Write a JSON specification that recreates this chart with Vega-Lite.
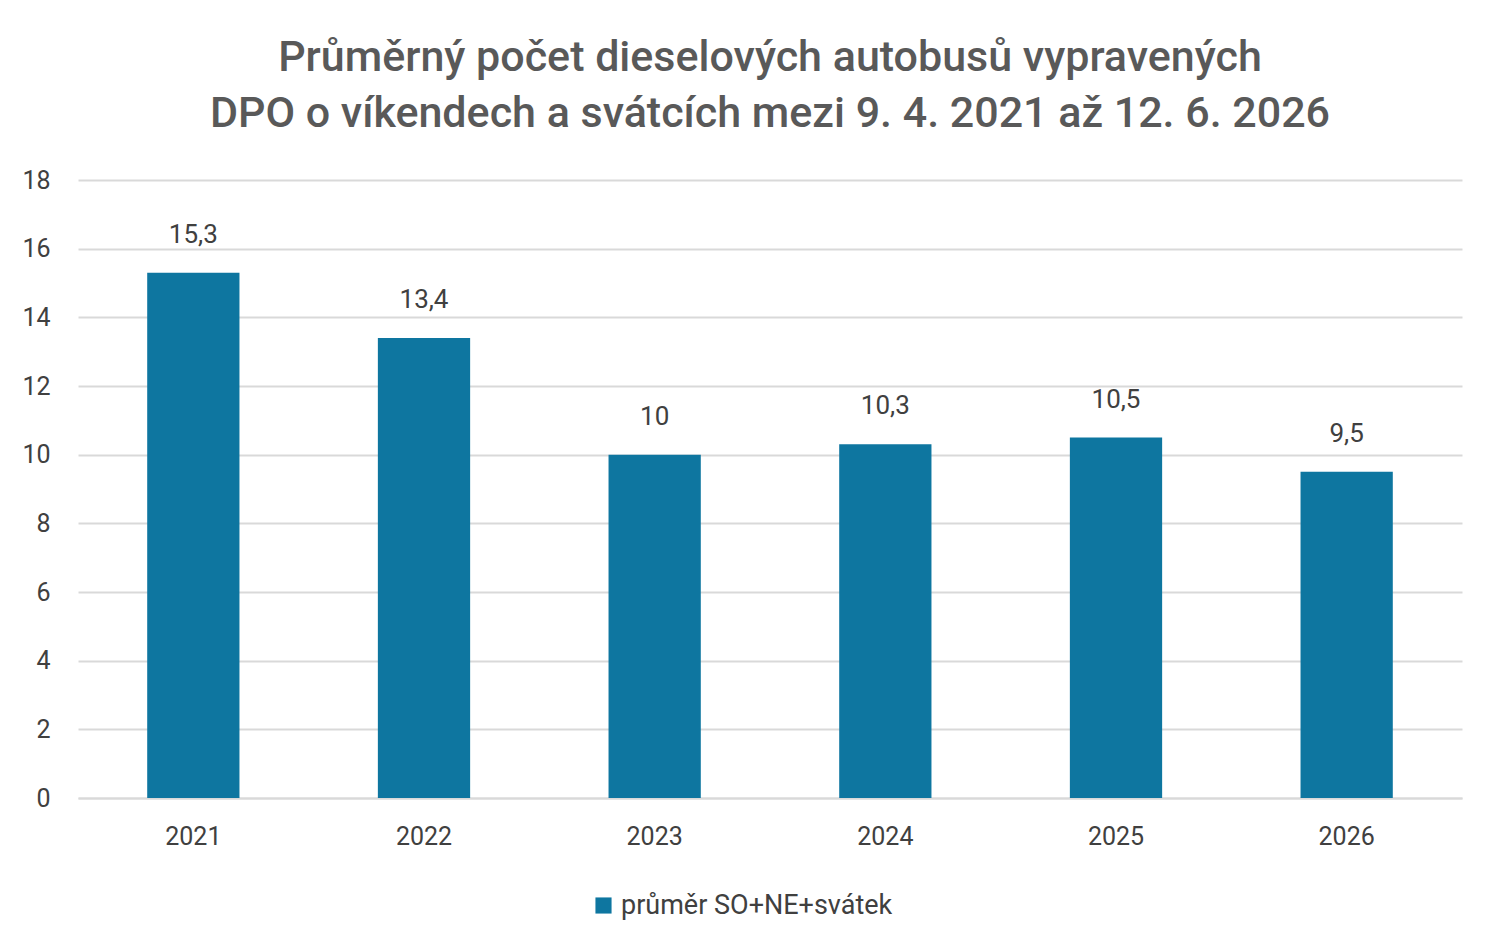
{
  "$schema": "https://vega.github.io/schema/vega-lite/v6.json",
  "width": 1384,
  "height": 618,
  "autosize": {"type": "none"},
  "padding": {"left": 78, "top": 180, "right": 38, "bottom": 154},
  "background": "white",
  "title": {
    "text": ["Průměrný počet dieselových autobusů vypravených", "DPO o víkendech a svátcích mezi 9. 4. 2021 až 12. 6. 2026"],
    "font": "Roboto",
    "fontSize": 43,
    "fontWeight": 500,
    "color": "#595959",
    "lineHeight": 56,
    "offset": 32,
    "anchor": "middle"
  },
  "data": {"values": [
    {"rok": "2021", "hodnota": 15.3, "label": "15,3", "serie": "průměr SO+NE+svátek"},
    {"rok": "2022", "hodnota": 13.4, "label": "13,4", "serie": "průměr SO+NE+svátek"},
    {"rok": "2023", "hodnota": 10, "label": "10", "serie": "průměr SO+NE+svátek"},
    {"rok": "2024", "hodnota": 10.3, "label": "10,3", "serie": "průměr SO+NE+svátek"},
    {"rok": "2025", "hodnota": 10.5, "label": "10,5", "serie": "průměr SO+NE+svátek"},
    {"rok": "2026", "hodnota": 9.5, "label": "9,5", "serie": "průměr SO+NE+svátek"}
  ]},
  "encoding": {
    "x": {"field": "rok", "type": "nominal", "title": null,
      "scale": {"paddingInner": 0.6, "paddingOuter": 0.3},
      "axis": {"labelAngle": 0, "labelFont": "Roboto", "labelFontSize": 25, "labelColor": "#404040", "labelPadding": 26, "ticks": false, "domainColor": "#d9d9d9", "domainWidth": 2}},
    "y": {"field": "hodnota", "type": "quantitative", "title": null,
      "scale": {"domain": [0, 18]},
      "axis": {"values": [0,2,4,6,8,10,12,14,16,18], "labelFont": "Roboto", "labelFontSize": 25, "labelColor": "#404040", "labelPadding": 28, "ticks": false, "domain": false, "gridColor": "#d9d9d9", "gridWidth": 2}}
  },
  "layer": [
    {"mark": {"type": "bar", "color": "#0E76A0"},
     "encoding": {"color": {"field": "serie", "type": "nominal", "scale": {"range": ["#0E76A0"]},
       "legend": {"title": null, "orient": "none", "legendX": 512, "legendY": 712, "symbolType": "square", "symbolSize": 260, "labelFont": "Roboto", "labelFontSize": 27, "labelColor": "#404040", "labelLimit": 500, "symbolStrokeWidth": 0}}}},
    {"mark": {"type": "text", "dy": -38, "font": "Roboto", "fontSize": 26, "color": "#404040"},
     "encoding": {"text": {"field": "label"}}}
  ],
  "config": {"view": {"stroke": null}}
}
